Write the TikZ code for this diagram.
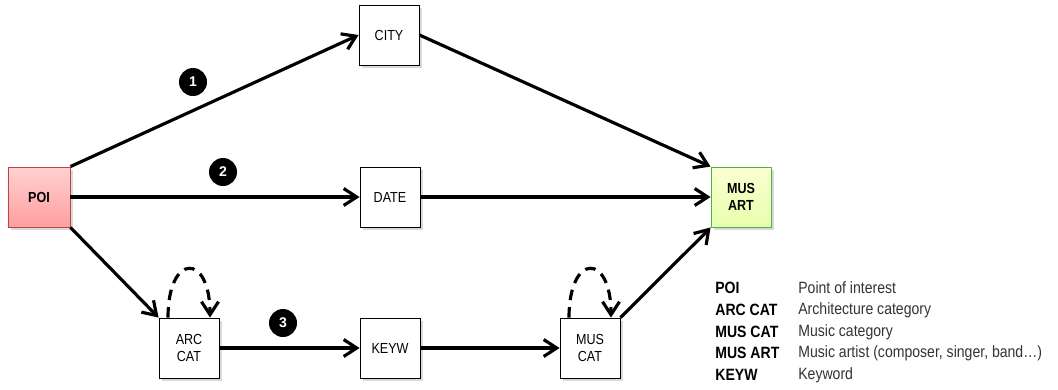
\documentclass[tikz,border=0pt]{standalone}
\usepackage{fontspec}
\setmainfont{Liberation Sans}
\newfontfamily\narrowfont[FakeStretch=0.86]{Liberation Sans}
\usetikzlibrary{arrows.meta,shadows}

\tikzset{
  box/.style={draw, line width=0.5pt, fill=white, minimum width=1.2cm, minimum height=1.2cm,
              align=center, font=\narrowfont\fontsize{8.3}{9.8}\selectfont,
              drop shadow={shadow xshift=0.05cm, shadow yshift=-0.06cm, opacity=0.3, fill=gray}},
  badge/.style={circle, fill=black, text=white, inner sep=0pt, minimum size=0.56cm,
                font=\bfseries\fontsize{8}{8}\selectfont},
  link/.style={line width=1.8pt, -{Straight Barb[length=2.6mm,width=3.4mm,line width=1.8pt]}},
  legkey/.style={anchor=west, inner sep=0pt, font=\narrowfont\bfseries\fontsize{9.3}{10}\selectfont},
  legtext/.style={anchor=west, inner sep=0pt, text=black!80, font=\narrowfont\fontsize{9.3}{10}\selectfont}
}

\begin{document}
\begin{tikzpicture}
    \useasboundingbox (0,0) rectangle (21.16,7.78);

    % entities
    \node [box, font=\narrowfont\bfseries\fontsize{8.3}{9.8}\selectfont, draw=red!45!gray,
           top color=red!18, bottom color=red!38!white, minimum width=1.24cm] (poi) at (0.78,3.84) {POI};
    \node [box, font=\narrowfont\bfseries\fontsize{8.3}{9.8}\selectfont, draw=green!40!gray,
           top color=green!8!yellow!18, bottom color=green!30!yellow!32] (musart) at (14.82,3.84) {MUS\\ART};
    \node [box] (city) at (7.78,7.08) {CITY};
    \node [box] (date) at (7.8,3.84) {DATE};
    \node [box] (arccat) at (3.78,0.82) {ARC\\CAT};
    \node [box] (keyw) at (7.8,0.82) {KEYW};
    \node [box] (muscat) at (11.8,0.82) {MUS\\CAT};

    % paths
    \draw [link] (poi.north east) -- (city.west);
    \draw [link] (city.east) -- (musart.north west);
    \draw [link] (poi.east) -- (date.west);
    \draw [link] (date.east) -- (musart.west);
    \draw [link] (poi.south east) -- (arccat.north west);
    \draw [link] (arccat.east) -- (keyw.west);
    \draw [link] (keyw.east) -- (muscat.west);
    \draw [link] (muscat.north east) -- (musart.south west);

    % self loops
    \draw [link, dash pattern=on 6pt off 4pt] ([xshift=-0.42cm]arccat.north)
        .. controls +(0,1.3) and +(0,1.3) .. ([xshift=0.42cm]arccat.north);
    \draw [link, dash pattern=on 6pt off 4pt] ([xshift=-0.42cm]muscat.north)
        .. controls +(0,1.3) and +(0,1.3) .. ([xshift=0.42cm]muscat.north);

    % path numbers
    \node [badge] (one) at (3.86,6.14) {1};
    \node [badge] (two) at (4.46,4.34) {2};
    \node [badge] (three) at (5.66,1.32) {3};

    % legend
    \node [legkey] (kpoi) at (14.3,2.02) {POI};
    \node [legkey] (karc) at (14.3,1.58) {ARC CAT};
    \node [legkey] (kmus) at (14.3,1.14) {MUS CAT};
    \node [legkey] (kart) at (14.3,0.72) {MUS ART};
    \node [legkey] (kkey) at (14.3,0.28) {KEYW};
    \node [legtext] (tpoi) at (15.96,2.02) {Point of interest};
    \node [legtext] (tarc) at (15.96,1.58) {Architecture category};
    \node [legtext] (tmus) at (15.96,1.14) {Music category};
    \node [legtext] (tart) at (15.96,0.72) {Music artist (composer, singer, band\dots)};
    \node [legtext] (tkey) at (15.96,0.28) {Keyword};
\end{tikzpicture}
\end{document}
